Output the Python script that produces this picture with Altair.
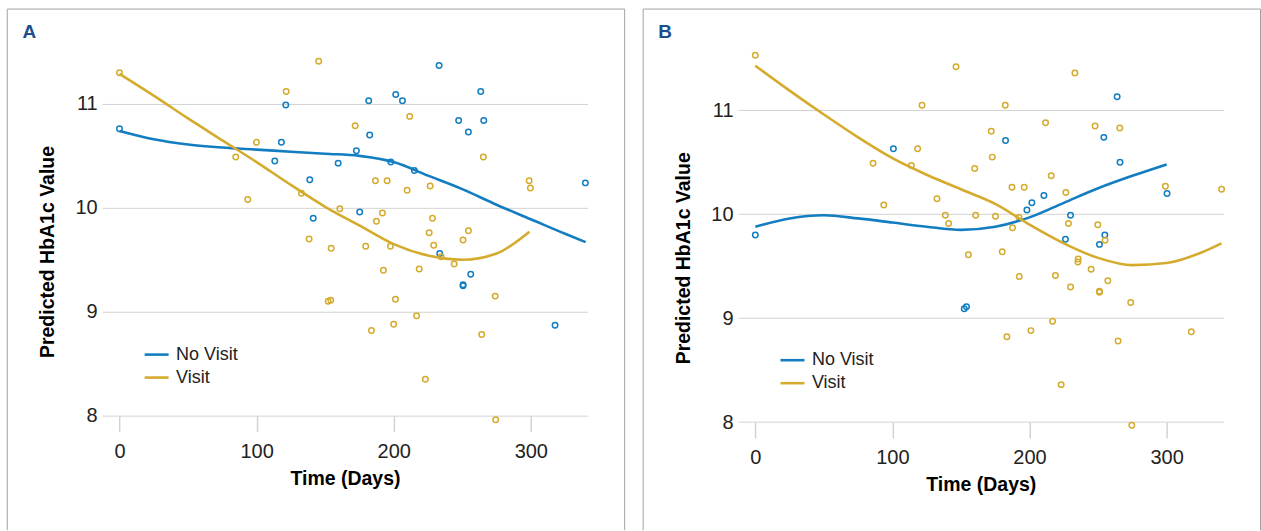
import altair as alt
import pandas as pd

BLUE = "#127dc0"
GOLD = "#d5ab2e"
FRAME = "#a3a3a3"
TITLE_C = "#1b4f8d"
GRID = "#d3d3d3"
FONT = "Liberation Sans"

GROUPS = ["No Visit", "Visit"]

# ---------------- Panel A ----------------
a_nv_day = [0, 121.3, 118.1, 113.3, 138.8, 141.3, 233.1, 181.8, 201.5, 206.4, 263.5, 182.5,
            247.4, 265.7, 254.5, 172.8, 159.5, 197.9, 215.1, 339.8, 175.2, 233.6, 256.2,
            250.6, 250.6, 317.7]
a_nv_val = [10.76, 10.99, 10.63, 10.45, 10.27, 9.90, 11.37, 11.03, 11.09, 11.03, 11.12, 10.70,
            10.84, 10.84, 10.73, 10.55, 10.43, 10.44, 10.36, 10.24, 9.96, 9.56, 9.36,
            9.25, 9.26, 8.87]
a_v_day = [0, 145.3, 121.6, 99.9, 84.8, 93.6, 132.7, 138.3, 211.7, 171.9, 265.4, 186.7, 195.2,
           209.8, 226.6, 298.8, 299.7, 160.7, 191.8, 187.4, 228.3, 154.4, 179.6, 197.6, 225.9,
           229.2, 250.6, 254.5, 234.6, 244.1, 192.5, 218.6, 274.0, 152.2, 154.1, 201.3, 216.7,
           200.0, 183.8, 264.2, 223.1, 274.4]
a_v_val = [11.30, 11.41, 11.12, 10.63, 10.49, 10.08, 10.14, 9.70, 10.88, 10.79, 10.49, 10.26, 10.26,
           10.17, 10.21, 10.26, 10.19, 9.99, 9.95, 9.87, 9.90, 9.61, 9.63, 9.63, 9.76,
           9.64, 9.69, 9.78, 9.53, 9.46, 9.40, 9.41, 9.15, 9.10, 9.11, 9.12, 8.96,
           8.88, 8.82, 8.78, 8.35, 7.96]
a_nv_curve_day = [0, 25, 50, 75, 100, 125, 150, 175, 200, 225, 250, 275, 300, 325, 340]
a_nv_curve_val = [10.74, 10.66, 10.61, 10.58, 10.56, 10.54, 10.52, 10.50, 10.44, 10.31, 10.18,
                  10.03, 9.89, 9.75, 9.67]
a_v_curve_day = [0, 25, 50, 75, 100, 125, 150, 175, 200, 225, 250, 275, 299]
a_v_curve_val = [11.29, 11.08, 10.86, 10.65, 10.44, 10.22, 10.01, 9.83, 9.65, 9.54, 9.50, 9.56, 9.77]

# ---------------- Panel B ----------------
b_nv_day = [0, 100.7, 263.9, 182.5, 254.2, 266.0, 210.5, 201.7, 198.1, 300.3, 229.9, 254.9,
            226.2, 251.0, 152.4, 154.0]
b_nv_val = [9.80, 10.63, 11.13, 10.71, 10.74, 10.50, 10.18, 10.11, 10.04, 10.20, 9.99, 9.80,
            9.76, 9.71, 9.09, 9.11]
b_v_day = [0, 121.6, 118.4, 85.9, 113.8, 93.7, 132.5, 138.6, 141.0, 146.4, 233.1, 182.3, 211.7,
           172.1, 247.8, 265.8, 172.8, 160.0, 215.8, 187.2, 196.1, 226.5, 299.1, 340.1, 160.7,
           175.2, 192.3, 187.6, 228.4, 249.8, 255.1, 155.4, 180.1, 235.5, 235.3, 244.9, 192.5,
           218.9, 257.1, 229.9, 251.0, 251.0, 273.8, 216.8, 201.0, 183.5, 264.6, 318.0, 223.1,
           274.6]
b_v_val = [11.53, 11.05, 10.63, 10.49, 10.47, 10.09, 10.15, 9.99, 9.91, 11.42, 11.36, 11.05, 10.88,
           10.80, 10.85, 10.83, 10.55, 10.44, 10.37, 10.26, 10.26, 10.21, 10.27, 10.24, 9.99,
           9.98, 9.97, 9.87, 9.91, 9.90, 9.75, 9.61, 9.64, 9.57, 9.54, 9.47, 9.40,
           9.41, 9.36, 9.30, 9.25, 9.26, 9.15, 8.97, 8.88, 8.82, 8.78, 8.87, 8.36,
           7.97]
b_nv_curve_day = [0, 25, 50, 75, 100, 125, 150, 175, 200, 225, 250, 275, 300]
b_nv_curve_val = [9.88, 9.96, 9.99, 9.96, 9.92, 9.88, 9.85, 9.88, 9.97, 10.11, 10.25, 10.37, 10.48]
b_v_curve_day = [0, 25, 50, 75, 100, 125, 150, 175, 200, 225, 250, 275, 300, 325, 340]
b_v_curve_val = [11.43, 11.19, 10.96, 10.74, 10.54, 10.38, 10.24, 10.10, 9.90, 9.72, 9.58, 9.51,
                 9.53, 9.63, 9.72]

x_ticks = [0, 100, 200, 300]
y_ticks = [8, 9, 10, 11]

PLOT_W = 486
PX_PER_UNIT = 104
PLOT_TOP = 47.3


def panel(letter, nv_day, nv_val, v_day, v_val, nvc_day, nvc_val, vc_day, vc_val,
          y_top, y_title, legend_y):
    height = (y_top - 8) * PX_PER_UNIT
    pts = pd.DataFrame({
        "day": nv_day + v_day,
        "val": nv_val + v_val,
        "grp": [GROUPS[0]] * len(nv_day) + [GROUPS[1]] * len(v_day),
    })
    crv = pd.DataFrame({
        "day": nvc_day + vc_day,
        "val": nvc_val + vc_val,
        "grp": [GROUPS[0]] * len(nvc_day) + [GROUPS[1]] * len(vc_day),
    })
    xs = alt.Scale(domain=[-12.6, 341.5], nice=False, zero=False)
    ys = alt.Scale(domain=[8, y_top], nice=False, zero=False)
    xaxis = alt.Axis(values=x_ticks, grid=False, domain=False, ticks=True, tickSize=16,
                     tickColor=GRID, tickWidth=1.5, labelFontSize=20, labelFont=FONT,
                     labelColor="#222222", labelPadding=10, title="Time (Days)",
                     titleFont=FONT, titleFontSize=19.5, titleFontWeight="bold",
                     titleColor="#000000", titleY=69, titleBaseline="alphabetic")
    yaxis = alt.Axis(values=y_ticks, grid=True, gridColor=GRID, gridWidth=1, ticks=False,
                     domain=False, labelFontSize=20, labelFont=FONT, labelColor="#222222",
                     labelPadding=5, title="Predicted HbA1c Value", titleFont=FONT,
                     titleFontSize=19.5, titleFontWeight="bold", titleColor="#000000",
                     titleAngle=270, titleX=-48.5, titleY=y_title, titleAlign="center",
                     titleBaseline="alphabetic")
    cscale = alt.Scale(domain=GROUPS, range=[BLUE, GOLD])
    legend = alt.Legend(
        orient="none", legendX=41, legendY=legend_y, title=None, symbolType="stroke",
        symbolSize=576, symbolStrokeWidth=2.6, labelFontSize=18, labelFont=FONT,
        labelColor="#222222", labelOffset=6, rowPadding=0, padding=0)

    points = alt.Chart(pts).mark_point(filled=False, size=30, strokeWidth=1.5, opacity=1).encode(
        x=alt.X("day:Q", scale=xs, axis=xaxis),
        y=alt.Y("val:Q", scale=ys, axis=yaxis),
        color=alt.Color("grp:N", scale=cscale, legend=legend),
    )
    lines = alt.Chart(crv).mark_line(strokeWidth=2.6, interpolate="monotone").encode(
        x=alt.X("day:Q", scale=xs, axis=xaxis),
        y=alt.Y("val:Q", scale=ys, axis=yaxis),
        color=alt.Color("grp:N", scale=cscale, legend=legend),
    )
    one = pd.DataFrame({"k": [0]})
    top_off = PLOT_TOP - 8.3
    bottom = 531 - PLOT_TOP - 1
    fr = alt.Chart(one).mark_rule(color=FRAME, strokeWidth=1)
    f_left = fr.encode(x=alt.value(-95), y=alt.value(-top_off), y2=alt.value(bottom))
    f_top = fr.encode(x=alt.value(-95), x2=alt.value(523), y=alt.value(-top_off))
    f_right = fr.encode(x=alt.value(523), y=alt.value(-top_off), y2=alt.value(bottom))
    label = alt.Chart(one).mark_text(text=letter, align="left", baseline="alphabetic",
                                     fontSize=19, fontWeight="bold", font=FONT,
                                     color=TITLE_C).encode(
        x=alt.value(-79.8), y=alt.value(37.5 - PLOT_TOP))
    return alt.layer(f_left, f_top, f_right, label, points, lines).properties(
        width=PLOT_W, height=height)


pA = panel("A", a_nv_day, a_nv_val, a_v_day, a_v_val,
           a_nv_curve_day, a_nv_curve_val, a_v_curve_day, a_v_curve_val,
           11.538, 203.7, 293.4)
pB = panel("B", b_nv_day, b_nv_val, b_v_day, b_v_val,
           b_nv_curve_day, b_nv_curve_val, b_v_curve_day, b_v_curve_val,
           11.6, 210, 299)

chart = alt.hconcat(pA, pB, spacing=16.5).resolve_scale(
    color="independent"
).resolve_legend(
    color="independent"
).properties(
    padding={"left": 6.3, "top": 7.8, "right": 0, "bottom": 0},
    background="white",
).configure_view(stroke=None)

chart.save("out.html", embed_options={"renderer": "svg", "actions": False})
